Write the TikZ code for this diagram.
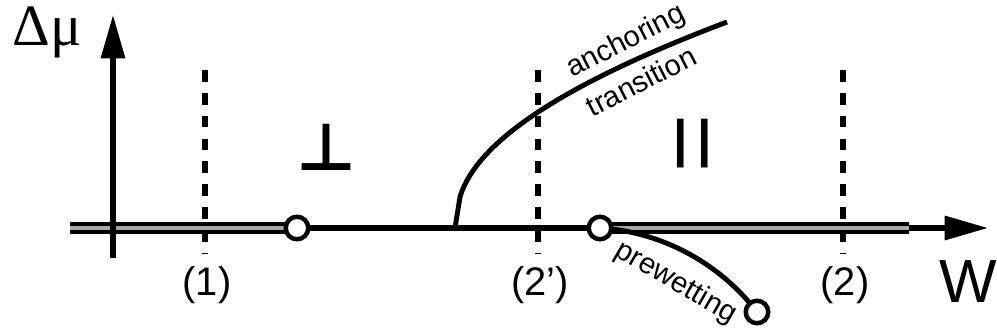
\documentclass[tikz,border=0pt]{standalone}
\usepackage{fontspec}
\setmainfont{Liberation Sans}
\newfontfamily\symfont{DejaVu Sans}
\newfontfamily\greekfont{Liberation Serif}
\usetikzlibrary{arrows.meta,backgrounds}

\tikzset{
  axis/.style={line width=4.3pt},
  phase/.style={line width=3.8pt, double=gray!70, double distance=3pt},
  guide/.style={line width=4.4pt, dash pattern=on 10pt off 9.5pt},
  curve/.style={line width=4.2pt},
  pt/.style={circle, draw, fill=white, line width=3.8pt, minimum size=19.2pt, inner sep=0pt},
  lbl/.style={font=\fontsize{34}{34}\selectfont, anchor=base},
  tag/.style={font=\fontsize{25}{25}\selectfont, inner sep=0pt},
}

\begin{document}
\begin{tikzpicture}[x=0.03cm, y=-0.03cm, >={Triangle[length=37pt,width=20pt]}]
\useasboundingbox (0,0) rectangle (997,335);

% transition points
\node[pt] (c1) at (297,228) {};
\node[pt] (c2) at (600,228) {};
\node[pt] (c3) at (757,312) {};

\coordinate (xs) at (70,228);
\coordinate (xe) at (988,228);
\coordinate (pe) at (909,228);
\coordinate (ys) at (113,258);
\coordinate (ye) at (113,15);
\coordinate (a0) at (455,228);
\coordinate (a1) at (460,197);
\coordinate (a2) at (727,22);

% cuts (1), (2'), (2)
\foreach \n/\x/\t in {1/205/(1), 2/538/(2'), 3/843/(2)} {
  \coordinate (g\n t) at (\x,70);
  \coordinate (g\n b) at (\x,253);
  \node[lbl] (l\n) at (\x+2,295) {\t};
}

\node[font=\greekfont\fontsize{50}{50}\selectfont, anchor=base] (dmu) at (47,45) {Δμ};
\node[font=\fontsize{52}{52}\selectfont, anchor=base] (w) at (968,302) {W};
\node[font=\symfont\bfseries\fontsize{56}{56}\selectfont, anchor=base] (perp) at (326,170) {⊥};
\node[font=\bfseries\fontsize{44}{44}\selectfont, anchor=base] (para) at (693,156) {|\hspace{8pt}|};

\node[tag, rotate=27] (ta) at (626,42) {anchoring};
\node[tag, rotate=27] (tt) at (641,81) {transition};
\node[tag, rotate=-30] (tp) at (676,283) {prewetting};

\begin{scope}[on background layer]
\foreach \n in {1,2,3} \draw[guide] (g\n t) -- (g\n b);
\draw[axis,->] (xs) -- (xe);
\draw[phase] (xs) -- (c1.center);
\draw[phase] (c2.center) -- (pe);
\draw[axis,->] (ys) -- (ye);
\draw[curve] (a0) -- (a1) .. controls (480,130) and (600,70) .. (a2);
\draw[curve] (c2.center) .. controls (665,232) and (722,266) .. (c3.center);
\end{scope}
\end{tikzpicture}
\end{document}
